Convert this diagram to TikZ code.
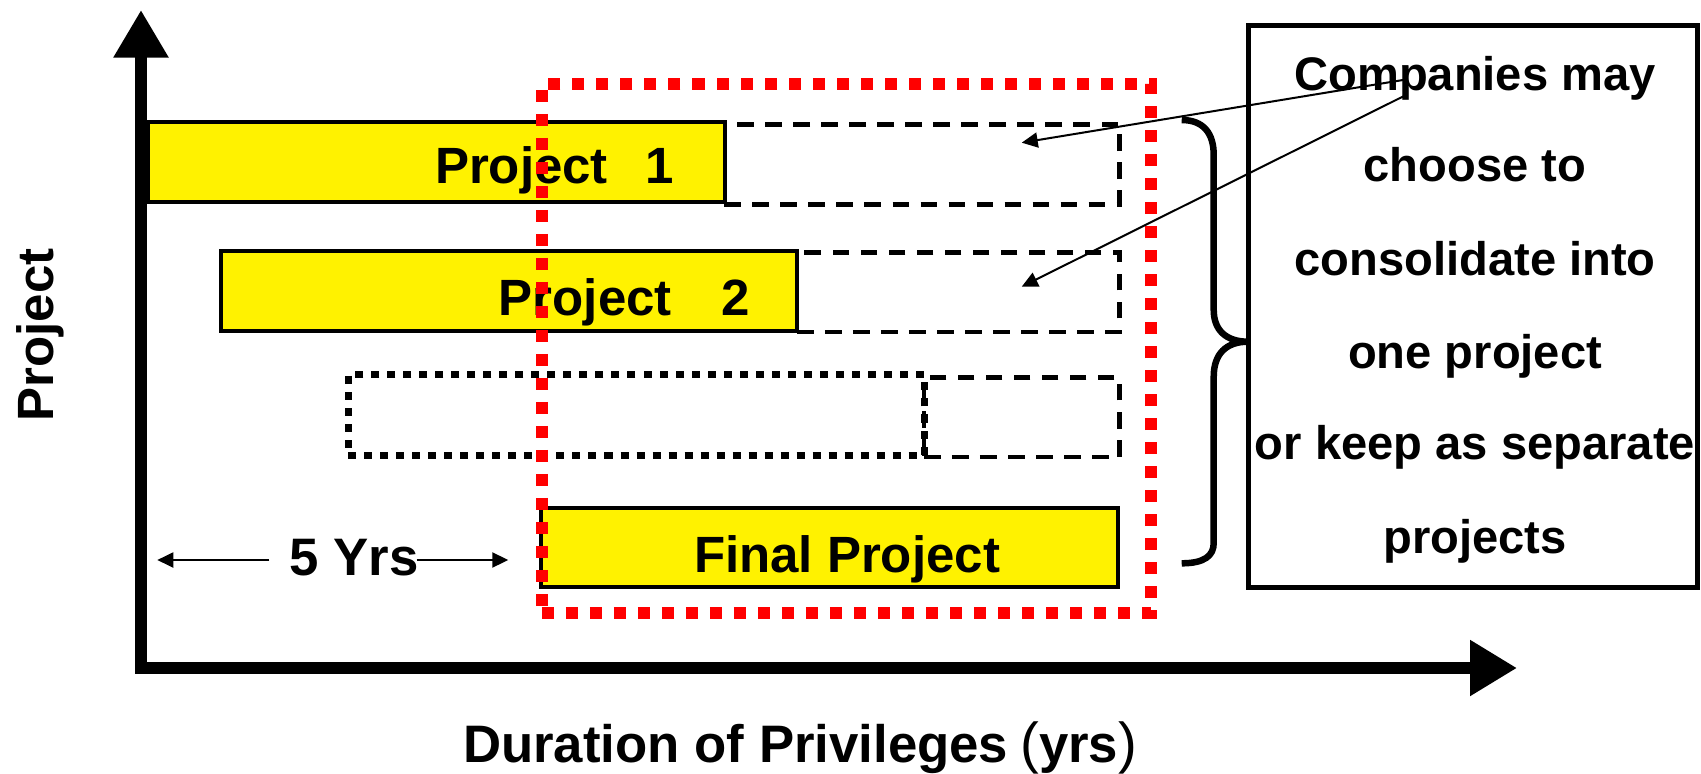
\documentclass[tikz,border=0pt]{standalone}
\usepackage{fontspec}
\setmainfont{Liberation Sans}
\usetikzlibrary{arrows.meta}
\tikzset{
 ybox/.style={draw=black, fill=yellow, line width=0.04cm, rectangle, inner sep=0pt},
 dbox/.style={draw=black, line width=0.045cm, dash pattern=on 0.167cm off 0.113cm, rectangle, inner sep=0pt},
 dotbox/.style={draw=black, line width=0.07cm, dash pattern=on 0.08cm off 0.08cm, rectangle, inner sep=0pt},
 redbox/.style={draw=red, line width=0.12cm, dash pattern=on 0.12cm off 0.12cm, rectangle, inner sep=0pt},
 tbox/.style={draw=black, line width=0.05cm, rectangle, inner sep=0pt},
 lbl/.style={font=\bfseries\fontsize{14.5}{17}\selectfont, inner sep=0pt, anchor=base},
 rtxt/.style={font=\bfseries\fontsize{13.4}{16}\selectfont, inner sep=0pt, anchor=base},
 thinarrow/.style={line width=0.02cm, -{Triangle[length=0.16cm,width=0.15cm]}},
 axisline/.style={line width=0.115cm, line join=miter,
   {Triangle[length=0.475cm,width=0.52cm]}-{Triangle[length=0.47cm,width=0.53cm]}},
 bracestyle/.style={line width=0.065cm, line cap=butt},
}
\begin{document}
\begin{tikzpicture}[x=0.01cm, y=-0.01cm]
\useasboundingbox (0,0) rectangle (1701,773);
% dashed and dotted extension boxes
\node[dbox, minimum width=3.948cm, minimum height=0.80cm] (d1) at (921.9,164.3) {};
\node[dbox, minimum width=3.223cm, minimum height=0.797cm] (d2) at (958.15,292.15) {};
\node[dotbox, minimum width=5.755cm, minimum height=0.80cm] (dot) at (636.25,415) {};
\node[dbox, minimum width=1.955cm, minimum height=0.793cm] (d3) at (1021.75,417.35) {};
% yellow project boxes
\node[ybox, minimum width=5.765cm, minimum height=0.80cm] (p1) at (436.25,162) {};
\node[ybox, minimum width=5.76cm, minimum height=0.795cm] (p2) at (509,290.75) {};
\node[ybox, minimum width=5.765cm, minimum height=0.79cm] (fp) at (829.25,547.5) {};
\node[lbl] (t1) at (554.5,183) {Project\hspace{0.377cm}1};
\node[lbl] (t2) at (624.6,315) {Project\hspace{0.5cm}2};
\node[lbl] (tf) at (847,572.7) {Final Project};
% red dotted frame
\node[redbox, minimum width=6.09cm, minimum height=5.285cm] (red) at (846.5,348.75) {};
% brace
\draw[bracestyle] (1181.7,120) .. controls (1204,120) and (1213.7,134) .. (1213.7,155)
  -- (1213.7,310) .. controls (1213.7,330) and (1226,341.7) .. (1248,341.7)
  .. controls (1226,341.7) and (1213.7,354) .. (1213.7,376.7)
  -- (1213.7,543) .. controls (1213.7,556) and (1204,563.3) .. (1181.7,563.3);
% text box
\node[tbox, minimum width=4.48cm, minimum height=5.615cm] (note) at (1473,306.75) {};
\node[rtxt] (r1) at (1475,90.7) {Companies may};
\node[rtxt] (r2) at (1475,181.8) {choose to};
\node[rtxt] (r3) at (1475,275.5) {consolidate into};
\node[rtxt] (r4) at (1475,368) {one project};
\node[rtxt] (r5) at (1475,459) {or keep as separate};
\node[rtxt] (r6) at (1475,553) {projects};
% pointer arrows
\coordinate (a1s) at (1403,80);
\coordinate (a1e) at (1021.7,142.7);
\coordinate (a2s) at (1405,95.5);
\coordinate (a2e) at (1021.7,286.7);
\draw[thinarrow] (a1s) -- (a1e);
\draw[thinarrow] (a2s) -- (a2e);
% 5 Yrs
\node[font=\bfseries\fontsize{15}{18}\selectfont, inner sep=0pt, anchor=base] (yrs) at (354,575.7) {5 Yrs};
\coordinate (y1s) at (269.3,560);
\coordinate (y1e) at (157.3,560);
\coordinate (y2s) at (416.7,560);
\coordinate (y2e) at (508.3,560);
\draw[thinarrow] (y1s) -- (y1e);
\draw[thinarrow] (y2s) -- (y2e);
% axes
\coordinate (ytip) at (141,10);
\coordinate (origin) at (141,668);
\coordinate (xtip) at (1517,668);
\draw[axisline] (ytip) -- (origin) -- (xtip);
\node[font=\bfseries\fontsize{14.5}{17}\selectfont, inner sep=0pt, anchor=base, rotate=90] (ylab) at (53.3,335) {Project};
\node[font=\bfseries\fontsize{15}{18}\selectfont, inner sep=0pt, anchor=base] (xlab) at (800,762)
  {Duration of Privileges\hspace{0.12cm}{\mdseries\fontsize{16}{18}\selectfont(}yrs{\mdseries\fontsize{16}{18}\selectfont)}};
\end{tikzpicture}
\end{document}
